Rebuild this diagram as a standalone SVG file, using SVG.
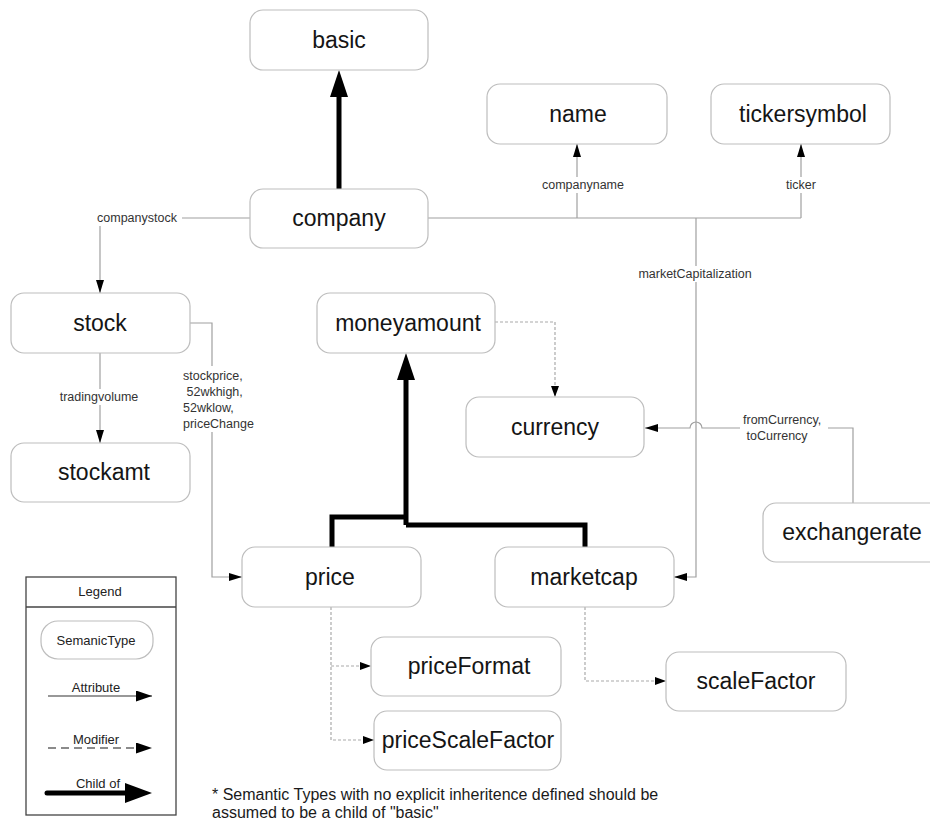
<svg xmlns="http://www.w3.org/2000/svg" width="930" height="825" viewBox="0 0 930 825">
<defs>
<style>
.node rect{fill:#fff;stroke:#bdbdbd;stroke-width:1.2}
.node text{font-family:"Liberation Sans",Arial,sans-serif;font-size:23px;fill:#151515;text-anchor:middle}
.attr{fill:none;stroke:#a0a0a0;stroke-width:1.2}
.mod{fill:none;stroke:#aaaaaa;stroke-width:1.2;stroke-dasharray:3,2}
.child{fill:none;stroke:#000;stroke-width:5}
.lbl{font-family:"Liberation Sans",Arial,sans-serif;font-size:12.5px;fill:#333}
.bg{fill:#fff}
.leg{font-family:"Liberation Sans",Arial,sans-serif;font-size:13px;fill:#222;text-anchor:middle}
.note{font-family:"Liberation Sans",Arial,sans-serif;font-size:16px;fill:#1a1a1a}
</style>
<marker id="a" markerUnits="userSpaceOnUse" markerWidth="13" markerHeight="8" refX="13" refY="4" orient="auto"><path d="M0,0 L13,4 L0,8 z" fill="#000"/></marker>
<marker id="m" markerUnits="userSpaceOnUse" markerWidth="11" markerHeight="8" refX="11" refY="4" orient="auto"><path d="M0,0 L11,4 L0,8 z" fill="#000"/></marker>
<marker id="ch" markerUnits="userSpaceOnUse" markerWidth="28" markerHeight="18" refX="8" refY="9" orient="auto"><path d="M0,0 L27,9 L0,18 z" fill="#000"/></marker>
<marker id="la" markerUnits="userSpaceOnUse" markerWidth="16" markerHeight="11" refX="16" refY="5.5" orient="auto"><path d="M0,0 L16,5.5 L0,11 z" fill="#000"/></marker>
<marker id="lc" markerUnits="userSpaceOnUse" markerWidth="28" markerHeight="20" refX="8" refY="10" orient="auto"><path d="M0,0 L27,10 L0,20 z" fill="#000"/></marker>
</defs>
<rect x="0" y="0" width="930" height="825" fill="#fff"/>

<g id="connectors">
  <!-- child-of -->
  <path class="child" d="M339,189 V89" marker-end="url(#ch)"/>
  <path class="child" d="M332,547 V517 H406"/>
  <path class="child" d="M585,547 V525 H406"/>
  <path class="child" d="M406,525 V372" marker-end="url(#ch)"/>
  <!-- attributes -->
  <path class="attr" d="M250,218 H100 V293" marker-end="url(#a)"/>
  <path class="attr" d="M428,218 H801"/>
  <path class="attr" d="M577,218 V144" marker-end="url(#a)"/>
  <path class="attr" d="M801,218 V144" marker-end="url(#a)"/>
  <path class="attr" d="M696,218 V577 H674" marker-end="url(#a)"/>
  <path class="attr" d="M100,353 V443" marker-end="url(#a)"/>
  <path class="attr" d="M190,323 H212 V577 H242" marker-end="url(#a)"/>
  <path class="attr" d="M853,503 V428 H702 A6,6 0 0 0 690,428 H645" marker-end="url(#a)"/>
  <!-- modifiers -->
  <path class="mod" d="M495,322 H555 V397" marker-end="url(#m)"/>
  <path class="mod" d="M331,607 V740 H374" marker-end="url(#m)"/>
  <path class="mod" d="M331,666 H371" marker-end="url(#m)"/>
  <path class="mod" d="M585,607 V681 H666" marker-end="url(#m)"/>
  <!-- labels -->
  <rect class="bg" x="93" y="210" width="89" height="16"/>
  <text class="lbl" x="137" y="222" text-anchor="middle">companystock</text>
  <rect class="bg" x="539" y="177" width="89" height="16"/>
  <text class="lbl" x="583" y="189" text-anchor="middle">companyname</text>
  <rect class="bg" x="783" y="177" width="37" height="16"/>
  <text class="lbl" x="801" y="189" text-anchor="middle">ticker</text>
  <rect class="bg" x="633" y="266" width="124" height="16"/>
  <text class="lbl" x="695" y="278" text-anchor="middle">marketCapitalization</text>
  <rect class="bg" x="56" y="389" width="86" height="16"/>
  <text class="lbl" x="99" y="401" text-anchor="middle">tradingvolume</text>
  <rect class="bg" x="181" y="366" width="78" height="66"/>
  <text class="lbl" x="183" y="380">stockprice,</text>
  <text class="lbl" x="183" y="396" xml:space="preserve"> 52wkhigh,</text>
  <text class="lbl" x="183" y="412">52wklow,</text>
  <text class="lbl" x="183" y="428">priceChange</text>
  <rect class="bg" x="740" y="410" width="88" height="32"/>
  <text class="lbl" x="743" y="424">fromCurrency,</text>
  <text class="lbl" x="743" y="440" xml:space="preserve"> toCurrency</text>
</g>

<g id="basic" class="node"><rect x="250" y="10" width="178" height="60" rx="13"/><text x="339" y="48">basic</text></g>
<g id="company" class="node"><rect x="250" y="189" width="178" height="59" rx="13"/><text x="339" y="226">company</text></g>
<g id="name" class="node"><rect x="487" y="84" width="180" height="60" rx="13"/><text x="578" y="122">name</text></g>
<g id="tickersymbol" class="node"><rect x="711" y="84" width="179" height="60" rx="13"/><text x="803" y="122">tickersymbol</text></g>
<g id="stock" class="node"><rect x="11" y="293" width="179" height="60" rx="13"/><text x="100" y="331">stock</text></g>
<g id="stockamt" class="node"><rect x="11" y="443" width="179" height="59" rx="13"/><text x="104" y="480">stockamt</text></g>
<g id="moneyamount" class="node"><rect x="317" y="293" width="178" height="60" rx="13"/><text x="408" y="331">moneyamount</text></g>
<g id="currency" class="node"><rect x="466" y="397" width="178" height="60" rx="13"/><text x="555" y="435">currency</text></g>
<g id="exchangerate" class="node"><rect x="763" y="503" width="185" height="59" rx="13"/><text x="852" y="540">exchangerate</text></g>
<g id="price" class="node"><rect x="242" y="547" width="179" height="60" rx="13"/><text x="330" y="585">price</text></g>
<g id="marketcap" class="node"><rect x="495" y="547" width="179" height="60" rx="13"/><text x="584" y="585">marketcap</text></g>
<g id="priceFormat" class="node"><rect x="371" y="637" width="190" height="59" rx="13"/><text x="469" y="674">priceFormat</text></g>
<g id="priceScaleFactor" class="node"><rect x="374" y="711" width="187" height="59" rx="13"/><text x="468" y="748">priceScaleFactor</text></g>
<g id="scaleFactor" class="node"><rect x="666" y="652" width="180" height="59" rx="13"/><text x="756" y="689">scaleFactor</text></g>

<g id="legend">
  <rect x="26" y="577" width="150" height="238" fill="#fff" stroke="#444" stroke-width="1.3"/>
  <line x1="26" y1="607" x2="176" y2="607" stroke="#444" stroke-width="1.3"/>
  <text class="leg" x="100" y="596">Legend</text>
  <rect x="41" y="621" width="112" height="38" rx="17" fill="#fff" stroke="#bdbdbd" stroke-width="1.2"/>
  <text class="leg" x="96" y="645">SemanicType</text>
  <text class="leg" x="96" y="692">Attribute</text>
  <line x1="48" y1="696" x2="152" y2="696" stroke="#333" stroke-width="1.2" marker-end="url(#la)"/>
  <text class="leg" x="96" y="744">Modifier</text>
  <line x1="48" y1="748" x2="152" y2="748" stroke="#666" stroke-width="1.5" stroke-dasharray="8,5" marker-end="url(#la)"/>
  <text class="leg" x="98" y="788">Child of</text>
  <line x1="47" y1="793" x2="133" y2="793" stroke="#000" stroke-width="5" stroke-linecap="round" marker-end="url(#lc)"/>
</g>

<text class="note" x="212" y="800">* Semantic Types with no explicit inheritence defined should be</text>
<text class="note" x="212" y="818">assumed to be a child of "basic"</text>
</svg>
